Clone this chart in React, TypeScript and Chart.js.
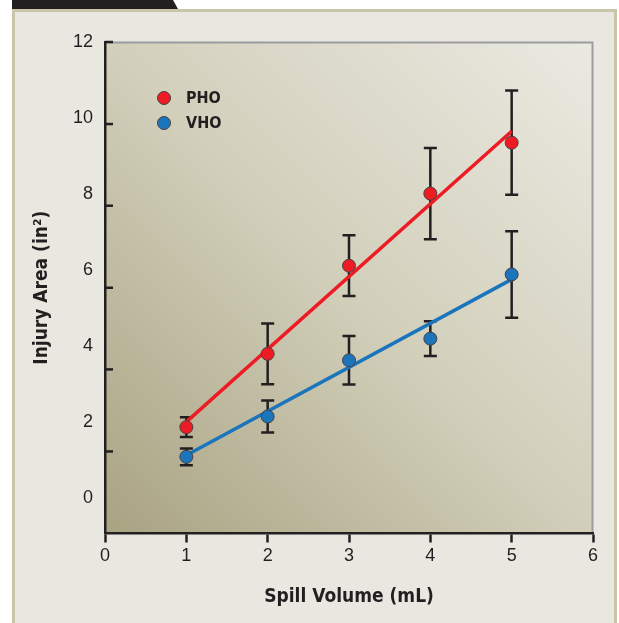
import React, { useEffect, useRef } from "react";
import { Chart, registerables } from "chart.js";

Chart.register(...registerables);

// ---- data ----
const X_VALUES = [1, 2, 3, 4, 5];
const PHO_MEAN = [1.86, 3.79, 6.11, 8.01, 9.35];
const PHO_ERR = [0.26, 0.8, 0.8, 1.2, 1.37];
const VHO_MEAN = [1.08, 2.14, 3.62, 4.19, 5.88];
const VHO_ERR = [0.22, 0.42, 0.64, 0.46, 1.14];
const FIT_X = [1, 5];
const PHO_FIT_Y = [2.0, 9.65];
const VHO_FIT_Y = [1.12, 5.75];
const X_TICKS = [0, 1, 2, 3, 4, 5, 6];
const Y_TICK_LABELS = [0, 2, 4, 6, 8, 10, 12];
const Y_TICK_MARKS = [12, 9.84, 7.69, 5.53, 3.38, 1.22];
const SERIES_NAMES = ["PHO", "VHO"];
const SERIES_COLORS = ["#ed1c24", "#1a75bc"];

const INK = "#231f20";
const NARROW = "'Liberation Sans Narrow', 'DejaVu Sans Condensed', 'Liberation Sans', sans-serif";
const REGULAR = "'Liberation Sans', Arial, sans-serif";

const W = 619;
const H = 623;

const plotPlugin = {
  id: "plotDecor",
  beforeDraw(chart: any) {
    const { ctx, chartArea: a } = chart;
    ctx.save();
    const g = ctx.createLinearGradient(a.left, a.bottom, a.right, a.top);
    g.addColorStop(0, "#a9a382");
    g.addColorStop(0.5, "#d2cfbb");
    g.addColorStop(1, "#ebeae2");
    ctx.fillStyle = g;
    ctx.fillRect(a.left, a.top, a.right - a.left, a.bottom - a.top);
    ctx.strokeStyle = "#9a9ca0";
    ctx.lineWidth = 2;
    ctx.beginPath();
    ctx.moveTo(a.left, a.top + 0.5);
    ctx.lineTo(a.right - 0.5, a.top + 0.5);
    ctx.lineTo(a.right - 0.5, a.bottom);
    ctx.stroke();
    ctx.restore();
  },
  beforeDatasetsDraw(chart: any) {
    const { ctx } = chart;
    const xs = chart.scales.x;
    const ys = chart.scales.y;
    const sets = [
      { m: PHO_MEAN, e: PHO_ERR },
      { m: VHO_MEAN, e: VHO_ERR },
    ];
    ctx.save();
    ctx.strokeStyle = INK;
    ctx.lineWidth = 2.5;
    sets.forEach((s) => {
      X_VALUES.forEach((xv, i) => {
        const px = xs.getPixelForValue(xv);
        const top = ys.getPixelForValue(s.m[i] + s.e[i]);
        const bot = ys.getPixelForValue(s.m[i] - s.e[i]);
        ctx.beginPath();
        ctx.moveTo(px, top);
        ctx.lineTo(px, bot);
        ctx.moveTo(px - 6.5, top);
        ctx.lineTo(px + 6.5, top);
        ctx.moveTo(px - 6.5, bot);
        ctx.lineTo(px + 6.5, bot);
        ctx.stroke();
      });
    });
    ctx.restore();
  },
  afterDraw(chart: any) {
    const { ctx, chartArea: a } = chart;
    const ys = chart.scales.y;
    ctx.save();
    // inward tick marks on the y axis
    ctx.strokeStyle = INK;
    ctx.lineWidth = 2.5;
    Y_TICK_MARKS.forEach((v) => {
      const py = ys.getPixelForValue(v);
      ctx.beginPath();
      ctx.moveTo(a.left, py);
      ctx.lineTo(a.left + 8, py);
      ctx.stroke();
    });
    // legend inside the plot
    SERIES_NAMES.forEach((name, i) => {
      const cx = a.left + 59;
      const cy = a.top + 56 + i * 25;
      ctx.beginPath();
      ctx.arc(cx, cy, 6.5, 0, Math.PI * 2);
      ctx.fillStyle = SERIES_COLORS[i];
      ctx.fill();
      ctx.lineWidth = 1;
      ctx.strokeStyle = "#4a4040";
      ctx.stroke();
      ctx.fillStyle = INK;
      ctx.font = `bold 16px ${NARROW}`;
      ctx.textBaseline = "middle";
      ctx.textAlign = "left";
      ctx.fillText(name, a.left + 81, cy + 1);
    });
    ctx.restore();
  },
};

export default function App() {
  const ref = useRef<HTMLCanvasElement>(null);
  useEffect(() => {
    if (!ref.current) return;
    const pts = (m: number[]) => X_VALUES.map((x, i) => ({ x, y: m[i] }));
    const fit = (y: number[]) => FIT_X.map((x, i) => ({ x, y: y[i] }));
    const chart = new Chart(ref.current, {
      type: "scatter",
      data: {
        datasets: [
          {
            label: SERIES_NAMES[0],
            data: pts(PHO_MEAN),
            backgroundColor: SERIES_COLORS[0],
            borderColor: "#4a4040",
            pointBorderWidth: 1,
            pointRadius: 6.5,
            showLine: false,
          },
          {
            label: SERIES_NAMES[1],
            data: pts(VHO_MEAN),
            backgroundColor: SERIES_COLORS[1],
            borderColor: "#4a4040",
            pointBorderWidth: 1,
            pointRadius: 6.5,
            showLine: false,
          },
          {
            label: SERIES_NAMES[0] + " fit",
            data: fit(PHO_FIT_Y),
            borderColor: SERIES_COLORS[0],
            borderWidth: 3.5,
            pointRadius: 0,
            showLine: true,
          },
          {
            label: SERIES_NAMES[1] + " fit",
            data: fit(VHO_FIT_Y),
            borderColor: SERIES_COLORS[1],
            borderWidth: 3.5,
            pointRadius: 0,
            showLine: true,
          },
        ],
      },
      options: {
        animation: false,
        responsive: false,
        layout: { padding: { left: 0, right: 26, top: 42, bottom: 0 } },
        plugins: { legend: { display: false }, tooltip: { enabled: false } },
        scales: {
          x: {
            type: "linear",
            min: 0,
            max: 6,
            afterBuildTicks: (axis: any) => {
              axis.ticks = X_TICKS.map((v) => ({ value: v }));
            },
            afterFit: (s: any) => {
              s.height = 89.5;
            },
            grid: {
              drawOnChartArea: false,
              drawTicks: true,
              tickLength: 9,
              tickWidth: 2.5,
              tickColor: INK,
              color: INK,
            },
            border: { display: true, color: INK, width: 2.5 },
            ticks: { color: INK, font: { family: REGULAR, size: 18 }, padding: 3 },
            title: {
              display: true,
              text: "Spill Volume (mL)",
              color: INK,
              font: { family: NARROW, size: 19, weight: "bold" },
              padding: { top: 0, bottom: 15 },
            },
          },
          y: {
            type: "linear",
            min: -0.94,
            max: 12,
            afterBuildTicks: (axis: any) => {
              axis.ticks = Y_TICK_LABELS.map((v) => ({ value: v }));
            },
            afterFit: (s: any) => {
              s.width = 105;
            },
            grid: { display: false, drawOnChartArea: false, drawTicks: false },
            border: { display: true, color: INK, width: 2.5 },
            ticks: { color: INK, font: { family: REGULAR, size: 18 }, padding: 12 },
            title: {
              display: true,
              text: "Injury Area (in²)",
              color: INK,
              font: { family: NARROW, size: 19, weight: "bold" },
              padding: { top: 31, bottom: 0 },
            },
          },
        },
      },
      plugins: [plotPlugin],
    } as any);
    return () => chart.destroy();
  }, []);

  return (
    <div style={{ position: "fixed", left: 0, top: 0, width: W, height: H, background: "#ffffff", overflow: "hidden" }}>
      <div
        style={{
          position: "absolute",
          left: 12,
          top: 0,
          width: 166,
          height: 9,
          background: INK,
          clipPath: "polygon(0 0, 161px 0, 166px 9px, 0 9px)",
        }}
      />
      <div
        style={{
          position: "absolute",
          left: 12,
          top: 9,
          width: 605,
          height: 640,
          boxSizing: "border-box",
          border: "3px solid #c8c5a9",
          background: "#e8e8e0",
        }}
      />
      <canvas ref={ref} width={W} height={H} style={{ position: "absolute", left: 0, top: 0 }} />
    </div>
  );
}
